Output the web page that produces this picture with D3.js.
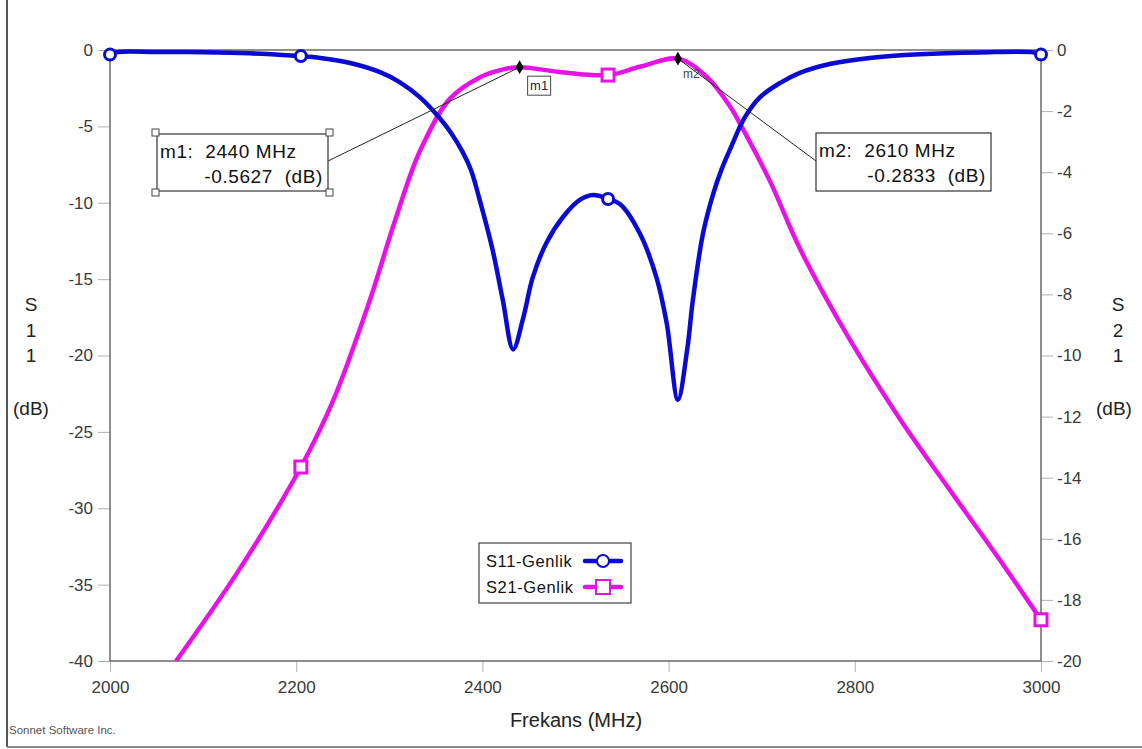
<!DOCTYPE html>
<html>
<head>
<meta charset="utf-8">
<script src="https://cdn.jsdelivr.net/npm/d3@7"></script>
<style>
  html, body { margin: 0; padding: 0; background: #fff; }
  svg { display: block; font-family: "Liberation Sans", Arial, sans-serif; }
</style>
</head>
<body>
<svg id="chart" width="1142" height="749"></svg>
<script>
// Frequency sweep (MHz) and S11 magnitude (dB, left axis)
const s11Freq = [2000, 2008, 2050, 2100, 2150, 2200, 2205, 2226, 2258, 2290, 2311, 2333, 2354,
  2366, 2379, 2388, 2397, 2411, 2422, 2433, 2444, 2454, 2469, 2487, 2505, 2519, 2535, 2548, 2569,
  2587, 2598, 2610, 2620, 2626, 2637, 2648, 2657, 2666, 2682, 2698, 2720, 2741, 2773, 2816, 2870,
  2934, 2990, 3000];
const s11Db = [-0.3, -0.14, -0.13, -0.15, -0.22, -0.38, -0.4, -0.52, -0.85, -1.45, -2.1, -3.1, -4.45,
  -5.4, -6.7, -7.9, -9.8, -13.1, -16.4, -19.6, -17.5, -14.9, -12.6, -10.9, -9.8, -9.5, -9.75, -10.1,
  -12.0, -14.9, -17.9, -22.9, -19.6, -16.4, -12.0, -9.4, -7.8, -6.5, -4.4, -3.1, -2.15, -1.5, -0.92,
  -0.52, -0.28, -0.16, -0.14, -0.3];

// S21 magnitude (dB, right axis)
const s21Freq = [2071, 2139, 2205, 2240, 2279, 2306, 2333, 2365, 2397, 2420, 2440,
  2483, 2535, 2569, 2610, 2641, 2666, 2680, 2709, 2741, 2795, 2849, 2902, 2956, 3000];
const s21Db = [-20.0, -17.0, -13.65, -11.45, -8.2, -5.6, -3.3, -1.6, -0.9, -0.65, -0.5627,
  -0.72, -0.82, -0.55, -0.2833, -0.88, -1.85, -2.6, -4.3, -6.5, -9.5, -12.1, -14.4, -16.7, -18.65];

// Symbol positions along each trace
const s11SymbolFreq = [2000, 2205, 2535, 3000];
const s21SymbolFreq = [2205, 2535, 3000];

// Marker readouts placed on the S21 trace
const markerNames = ["m1", "m2"];
const markerFreq = [2440, 2610];

// Axis ticks
const xTicks = [2000, 2200, 2400, 2600, 2800, 3000];
const leftTicks = [0, -5, -10, -15, -20, -25, -30, -35, -40];
const rightTicks = [0, -2, -4, -6, -8, -10, -12, -14, -16, -18, -20];

const seriesNames = ["S11-Genlik", "S21-Genlik"];
const blue = "#0a0ad2";
const magenta = "#e812e8";
const axisGray = "#6a6a6a";
const textGray = "#3a3a3a";

const svg = d3.select("#chart");
const plot = { left: 110, right: 1041, top: 50, bottom: 661 };

const x = d3.scaleLinear().domain([2000, 3000]).range([plot.left, plot.right]);
const yL = d3.scaleLinear().domain([-40, 0]).range([plot.bottom, plot.top]);
const yR = d3.scaleLinear().domain([-20, 0]).range([plot.bottom, plot.top]);

// Outer frame (left and bottom edges)
svg.append("line").attr("x1", 7).attr("x2", 7).attr("y1", 0).attr("y2", 747)
  .attr("stroke", "#555").attr("stroke-width", 2);
svg.append("line").attr("x1", 7).attr("x2", 1142).attr("y1", 747).attr("y2", 747)
  .attr("stroke", "#888").attr("stroke-width", 2);

// Clip region for traces
svg.append("defs").append("clipPath").attr("id", "plotClip")
  .append("rect").attr("x", plot.left).attr("y", plot.top - 6)
  .attr("width", plot.right - plot.left).attr("height", plot.bottom - plot.top + 6);

// Axes (plain hyphen for negative numbers)
const plainNum = d => String(d);
function styleAxis(g) {
  g.select(".domain").remove();
  g.selectAll(".tick line").attr("stroke", "#b0b0b0").attr("stroke-width", 1);
  g.selectAll(".tick text").attr("fill", textGray).attr("font-size", 17)
    .attr("font-family", "Liberation Sans, Arial, sans-serif");
}
svg.append("g").attr("transform", `translate(0,${plot.bottom})`)
  .call(d3.axisBottom(x).tickValues(xTicks).tickSize(11).tickPadding(9).tickFormat(plainNum))
  .call(styleAxis);
svg.append("g").attr("transform", `translate(${plot.left},0)`)
  .call(d3.axisLeft(yL).tickValues(leftTicks).tickSize(12).tickPadding(5).tickFormat(plainNum))
  .call(styleAxis);
svg.append("g").attr("transform", `translate(${plot.right},0)`)
  .call(d3.axisRight(yR).tickValues(rightTicks).tickSize(12).tickPadding(4).tickFormat(plainNum))
  .call(styleAxis);

// Plot border
svg.append("rect").attr("x", plot.left).attr("y", plot.top)
  .attr("width", plot.right - plot.left).attr("height", plot.bottom - plot.top)
  .attr("fill", "none").attr("stroke", axisGray).attr("stroke-width", 1.5);

// Traces
const s11Data = s11Freq.map((f, i) => ({ f, v: s11Db[i] }));
const s21Data = s21Freq.map((f, i) => ({ f, v: s21Db[i] }));

const traces = svg.append("g").attr("clip-path", "url(#plotClip)");
traces.append("path").datum(s21Data)
  .attr("d", d3.line().x(d => x(d.f)).y(d => yR(d.v)).curve(d3.curveCatmullRom.alpha(0.5)))
  .attr("fill", "none").attr("stroke", magenta).attr("stroke-width", 4.5)
  .attr("stroke-linejoin", "round");
traces.append("path").datum(s11Data)
  .attr("d", d3.line().x(d => x(d.f)).y(d => yL(d.v)).curve(d3.curveCatmullRom.alpha(0.5)))
  .attr("fill", "none").attr("stroke", blue).attr("stroke-width", 4.5)
  .attr("stroke-linejoin", "round");

// Trace symbols
const s11Sym = s11Data.filter(d => s11SymbolFreq.includes(d.f));
svg.append("g").selectAll("circle").data(s11Sym).join("circle")
  .attr("cx", d => x(d.f)).attr("cy", d => yL(d.v)).attr("r", 5.5)
  .attr("fill", "#fff").attr("stroke", blue).attr("stroke-width", 3);
const s21Sym = s21Data.filter(d => s21SymbolFreq.includes(d.f));
svg.append("g").selectAll("rect").data(s21Sym).join("rect")
  .attr("x", d => x(d.f) - 6).attr("y", d => yR(d.v) - 6).attr("width", 12).attr("height", 12)
  .attr("fill", "#fff").attr("stroke", magenta).attr("stroke-width", 3);

// Markers m1 / m2
const markers = markerNames.map((name, i) => {
  const d = s21Data.find(p => p.f === markerFreq[i]);
  return { name, f: d.f, v: d.v };
});
const boxes = [
  { x: 157, y: 134, w: 171, h: 57, anchorX: 326, anchorY: 162, handles: true },
  { x: 816, y: 133, w: 175, h: 58, anchorX: 816, anchorY: 161, handles: false }
];
markers.forEach((m, i) => {
  const b = boxes[i];
  const mx = x(m.f), my = yR(m.v);
  svg.append("line").attr("x1", b.anchorX).attr("y1", b.anchorY).attr("x2", mx).attr("y2", my)
    .attr("stroke", "#222").attr("stroke-width", 1);
  svg.append("rect").attr("x", b.x).attr("y", b.y).attr("width", b.w).attr("height", b.h)
    .attr("fill", "#fff").attr("stroke", "#333").attr("stroke-width", 1.2);
  svg.append("text").attr("x", b.x + 3).attr("y", b.y + 24).attr("font-size", 19)
    .attr("letter-spacing", 0.6).attr("fill", "#111").attr("xml:space", "preserve")
    .text(`${m.name}:  ${m.f} MHz`);
  svg.append("text").attr("x", b.x + b.w - 5).attr("y", b.y + 49).attr("font-size", 19)
    .attr("letter-spacing", 0.6).attr("fill", "#111").attr("text-anchor", "end")
    .attr("xml:space", "preserve")
    .text(`${m.v.toFixed(4)}  (dB)`);
  if (b.handles) {
    [[b.x - 5, b.y - 5], [b.x + b.w - 2, b.y - 5], [b.x - 5, b.y + b.h - 2], [b.x + b.w - 2, b.y + b.h - 2]]
      .forEach(([hx, hy]) => {
        svg.append("rect").attr("x", hx).attr("y", hy).attr("width", 7).attr("height", 7)
          .attr("fill", "#fff").attr("stroke", "#444").attr("stroke-width", 1);
      });
  }
  // diamond on the trace
  svg.append("path").attr("d", d3.symbol(d3.symbolDiamond, 55)())
    .attr("transform", `translate(${mx},${my})`).attr("fill", "#000");
});
// small tags next to the marker diamonds
const m1x = x(markers[0].f), m1y = yR(markers[0].v);
svg.append("rect").attr("x", m1x + 8).attr("y", m1y + 9).attr("width", 23).attr("height", 19)
  .attr("fill", "#fff").attr("stroke", "#444").attr("stroke-width", 1);
svg.append("text").attr("x", m1x + 19.5).attr("y", m1y + 23).attr("text-anchor", "middle")
  .attr("font-size", 13).attr("fill", "#222").text(markers[0].name);
const m2x = x(markers[1].f), m2y = yR(markers[1].v);
svg.append("text").attr("x", m2x + 5).attr("y", m2y + 19).attr("font-size", 12)
  .attr("fill", "#444").text(markers[1].name);

// Legend
const lg = svg.append("g").attr("transform", "translate(479,543)");
lg.append("rect").attr("width", 152).attr("height", 60).attr("fill", "#fff")
  .attr("stroke", "#444").attr("stroke-width", 1.2);
seriesNames.forEach((name, i) => {
  const cy = 18 + i * 26;
  const col = i === 0 ? blue : magenta;
  lg.append("text").attr("x", 7).attr("y", cy + 6).attr("font-size", 16.5)
    .attr("letter-spacing", 0.6).attr("fill", "#111").text(name);
  lg.append("line").attr("x1", 106).attr("x2", 142).attr("y1", cy).attr("y2", cy)
    .attr("stroke", col).attr("stroke-width", 4.5).attr("stroke-linecap", "round");
  if (i === 0) {
    lg.append("circle").attr("cx", 124).attr("cy", cy).attr("r", 6)
      .attr("fill", "#fff").attr("stroke", col).attr("stroke-width", 2);
  } else {
    lg.append("rect").attr("x", 117).attr("y", cy - 7).attr("width", 14).attr("height", 14)
      .attr("fill", "#fff").attr("stroke", col).attr("stroke-width", 2);
  }
});

// Axis titles
svg.append("text").attr("x", 576).attr("y", 727).attr("text-anchor", "middle")
  .attr("font-size", 20).attr("fill", "#222").text("Frekans (MHz)");
function stackedTitle(cx, chars) {
  chars.forEach((c, i) => {
    svg.append("text").attr("x", cx).attr("y", 311 + i * 25.5).attr("text-anchor", "middle")
      .attr("font-size", 19).attr("fill", "#222").text(c);
  });
}
stackedTitle(31, ["S", "1", "1"]);
stackedTitle(1118, ["S", "2", "1"]);
svg.append("text").attr("x", 31).attr("y", 415).attr("text-anchor", "middle")
  .attr("font-size", 19).attr("fill", "#222").text("(dB)");
svg.append("text").attr("x", 1114).attr("y", 415).attr("text-anchor", "middle")
  .attr("font-size", 19).attr("fill", "#222").text("(dB)");

// Footer
svg.append("text").attr("x", 9).attr("y", 734).attr("font-size", 11.5)
  .attr("fill", "#555").text("Sonnet Software Inc.");
</script>
</body>
</html>
